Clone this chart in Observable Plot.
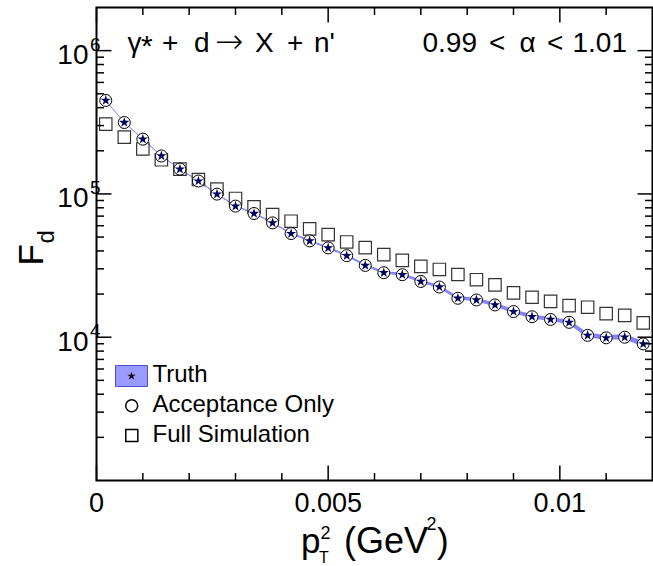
<!DOCTYPE html>
<html><head><meta charset="utf-8">
<script src="https://cdn.jsdelivr.net/npm/d3@7"></script>
<script src="https://cdn.jsdelivr.net/npm/@observablehq/plot@0.6"></script>
<style>body{margin:0;background:#fff}</style>
</head><body><div id="chart"></div>
<script>
// ---- data ----
const pt2 = [0.0002,0.0006,0.0010,0.0014,0.0018,0.0022,0.0026,0.0030,0.0034,0.0038,
             0.0042,0.0046,0.0050,0.0054,0.0058,0.0062,0.0066,0.0070,0.0074,0.0078,
             0.0082,0.0086,0.0090,0.0094,0.0098,0.0102,0.0106,0.0110,0.0114,0.0118];
const truth = [449000,315000,241000,184000,149000,123000,99700,82200,73000,62800,
               52900,47000,42000,37100,31700,28200,27300,24500,22400,18700,
               18200,16800,15100,13900,13300,12700,10300,9900,10000,8980];
const truthErr = [0.005,0.005,0.006,0.006,0.007,0.008,0.009,0.010,0.011,0.012,
                  0.014,0.015,0.016,0.018,0.019,0.021,0.022,0.024,0.025,0.027,
                  0.028,0.030,0.031,0.033,0.034,0.036,0.038,0.039,0.041,0.043];
const acceptanceOnly = [449000,315000,241000,184000,149000,123000,99700,82200,73000,62800,
                        52900,47000,42000,37100,31700,28200,27300,24500,22400,18700,
                        18200,16800,15100,13900,13300,12700,10300,9900,10000,8980];
const fullSimulation = [307000,249000,206000,173000,149000,126000,108000,93000,81200,71800,
                        64500,57000,52000,46200,42200,37700,34400,31200,29700,27400,
                        25200,23200,20400,19000,17800,16600,16200,14600,14200,12600];

const xMajor = [0, 0.005, 0.01];
const xMajorLabels = ["0", "0.005", "0.01"];
const xMinor = [0.001,0.002,0.003,0.004,0.006,0.007,0.008,0.009,0.011];
const yMajor = [1e4, 1e5, 1e6];
const yMajorExp = ["4", "5", "6"];
const yMinor = [2e3,3e3,4e3,5e3,6e3,7e3,8e3,9e3,
                2e4,3e4,4e4,5e4,6e4,7e4,8e4,9e4,
                2e5,3e5,4e5,5e5,6e5,7e5,8e5,9e5];
const legendLabels = ["Truth", "Acceptance Only", "Full Simulation"];

// ---- layout ----
const W = 653, H = 566, mL = 96, mR = 1, mT = 7, mB = 86;
const innerW = W - mL - mR;
const rows = pt2.map((x, i) => ({
  x, truth: truth[i], acc: acceptanceOnly[i], full: fullSimulation[i],
  lo: truth[i] * (1 - truthErr[i]), hi: truth[i] * (1 + truthErr[i])
}));
const boxSymbol = {draw(ctx) { ctx.rect(-16, -10.5, 32, 21); }};
const font = "'Liberation Sans', Arial, Helvetica, sans-serif";
const tw = 1.5, majL = 15, minL = 7.5;
const xTitleCx = mL + innerW / 2;

// inward tick symbols (filled thin rectangles)
const tickSym = {
  bottom: L => ({draw(c) { c.rect(-tw / 2, -L, tw, L); }}),
  top:    L => ({draw(c) { c.rect(-tw / 2, 0, tw, L); }}),
  left:   L => ({draw(c) { c.rect(0, -tw / 2, L, tw); }}),
  right:  L => ({draw(c) { c.rect(-L, -tw / 2, L, tw); }})
};
function ticks(data, ch, side, L) {
  return Plot.dot(data, {[ch]: d => d, frameAnchor: side, symbol: tickSym[side](L),
    fill: "black", stroke: "none"});
}
function label(str, anchor, x0, dx, dy, size, extra = {}) {
  return Plot.text([str], {text: d => d, frameAnchor: anchor, textAnchor: "start", lineAnchor: "bottom",
    dx: dx - x0, dy, fontSize: size, ...extra});
}

const chart = Plot.plot({
  width: W, height: H,
  marginLeft: mL, marginRight: mR, marginTop: mT, marginBottom: mB,
  style: {fontFamily: font, background: "white", overflow: "visible"},
  x: {domain: [0, 0.012], axis: null},
  y: {type: "log", domain: [1000, 2e6], axis: null},
  marks: [
    Plot.areaY(rows, {x: "x", y1: "lo", y2: "hi", fill: "#7f7fff"}),
    Plot.lineY(rows, {x: "x", y: "truth", stroke: "#8f8fff", strokeWidth: 1}),
    Plot.dot(rows, {x: "x", y: "full", symbol: "square", r: 7, stroke: "#333", strokeWidth: 1.2, fill: "none"}),
    Plot.dot(rows, {x: "x", y: "acc", r: 6, stroke: "black", strokeWidth: 1, fill: "white"}),
    Plot.dot(rows, {x: "x", y: "truth", symbol: "star", r: 3.2, fill: "#000060"}),

    // inward ticks on all four sides
    ticks(xMajor, "x", "bottom", majL),
    ticks(xMinor, "x", "bottom", minL),
    ticks(xMajor, "x", "top", majL),
    ticks(xMinor, "x", "top", minL),
    ticks(yMajor, "y", "left", majL),
    ticks(yMinor, "y", "left", minL),
    ticks(yMajor, "y", "right", majL),
    ticks(yMinor, "y", "right", minL),
    Plot.frame({stroke: "black", strokeWidth: 2}),

    Plot.text(xMajor, {x: d => d, text: (d, i) => xMajorLabels[i], frameAnchor: "bottom",
      lineAnchor: "bottom", dy: 31.5, fontSize: 27}),
    Plot.text(yMajor, {y: d => d, text: () => "10", frameAnchor: "left", textAnchor: "end",
      lineAnchor: "bottom", dx: -8, dy: 13.5, fontSize: 28}),
    Plot.text(yMajor, {y: d => d, text: (d, i) => yMajorExp[i], frameAnchor: "left", textAnchor: "start",
      lineAnchor: "bottom", dx: -6.5, dy: 0, fontSize: 19}),

    Plot.text(["F"], {text: d => d, frameAnchor: "left", textAnchor: "start", lineAnchor: "bottom",
      rotate: -90, dx: -54, dy: 21.5, fontSize: 35}),
    Plot.text(["d"], {text: d => d, frameAnchor: "left", textAnchor: "start", lineAnchor: "bottom",
      rotate: -90, dx: -43, dy: -0.5, fontSize: 24}),

    label("p", "bottom", xTitleCx, 300.5, 72.5, 35),
    label("2", "bottom", xTitleCx, 320, 58.5, 18),
    label("T", "bottom", xTitleCx, 318.5, 82, 16),
    label("(GeV", "bottom", xTitleCx, 343.5, 72.5, 36),
    label("2", "bottom", xTitleCx, 426, 49, 18),
    label(")", "bottom", xTitleCx, 436.5, 72.5, 35),

    label("γ", "top-left", mL, 127, 44.7, 28),
    label("*", "top-left", mL, 140.5, 48.5, 30),
    label("+", "top-left", mL, 161.5, 44.7, 28),
    label("d", "top-left", mL, 193.5, 44.7, 28),
    label("→", "top-left", mL, 214.5, 45.7, 34, {fontFamily: "'DejaVu Sans', sans-serif", fontWeight: 300}),
    label("X", "top-left", mL, 254.5, 44.7, 28),
    label("+", "top-left", mL, 286.5, 44.7, 28),
    label("n'", "top-left", mL, 313.5, 44.7, 28),
    label("0.99", "top-left", mL, 422, 44.7, 28),
    label("<", "top-left", mL, 488.5, 44.7, 28),
    label("α", "top-left", mL, 519, 44.7, 28),
    label("<", "top-left", mL, 546.5, 44.7, 28),
    label("1.01", "top-left", mL, 572, 44.7, 28),

    Plot.dot([0], {frameAnchor: "top-left", dx: 35, dy: 368.5, symbol: boxSymbol, fill: "#9b9bff", stroke: "#4b4bd0", strokeWidth: 1}),
    Plot.dot([0], {frameAnchor: "top-left", dx: 35, dy: 368.5, symbol: "star", r: 2.6, fill: "black"}),
    Plot.dot([0], {frameAnchor: "top-left", dx: 35.2, dy: 398.3, r: 6, stroke: "black", fill: "none"}),
    Plot.dot([0], {frameAnchor: "top-left", dx: 35.3, dy: 428, symbol: "square", r: 6.8, stroke: "black", fill: "none"}),
    Plot.text(legendLabels, {text: d => d, frameAnchor: "top-left", textAnchor: "start", lineAnchor: "bottom",
      dx: 56, fontSize: 24, filter: (d, i) => i === 0, dy: 374.5}),
    Plot.text(legendLabels, {text: d => d, frameAnchor: "top-left", textAnchor: "start", lineAnchor: "bottom",
      dx: 56, fontSize: 24, filter: (d, i) => i === 1, dy: 404.7}),
    Plot.text(legendLabels, {text: d => d, frameAnchor: "top-left", textAnchor: "start", lineAnchor: "bottom",
      dx: 56, fontSize: 24, filter: (d, i) => i === 2, dy: 434}),
  ]
});
document.getElementById("chart").appendChild(chart);
</script>
</body></html>
